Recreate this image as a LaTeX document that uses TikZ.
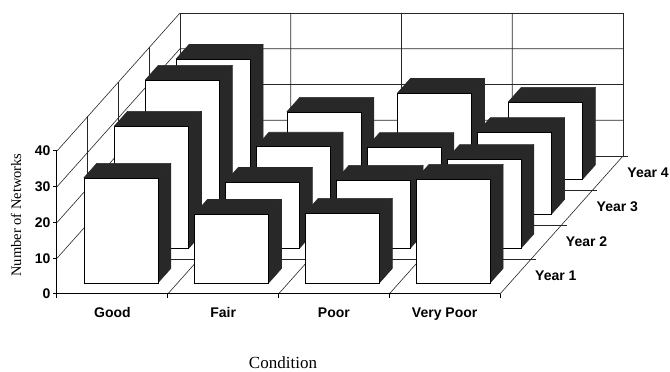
\documentclass[tikz,border=0pt]{standalone}
\usepackage{fontspec}
\setmainfont{Liberation Serif}
\newfontfamily\chartsf{Liberation Sans}
\usepackage{tikz}
\usetikzlibrary{positioning, calc}
\definecolor{barblack}{HTML}{282828}
\tikzstyle{GridLine} = [line width=0.6pt, black!85]
\tikzstyle{AxisLine} = [line width=1pt, black]
\tikzstyle{BarFront} = [fill=white, draw=black, line width=0.6pt]
\tikzstyle{BarShade} = [fill=barblack, draw=barblack, line width=0.6pt, line join=round]
\tikzstyle{ChartLabel} = [font=\chartsf\bfseries\fontsize{14}{16}\selectfont, inner sep=0pt]
\tikzstyle{TitleLabel} = [font=\fontsize{14.5}{16}\selectfont, inner sep=0pt]
% one box: condition, year, number of networks
\newcommand{\netbar}[3]{%
  \pgfmathsetmacro{\xa}{110.75*#1+17}
  \pgfmathsetmacro{\xb}{\xa+74}
  \pgfmathsetmacro{\za}{#2+0.32}
  \pgfmathsetmacro{\zb}{\za+0.42}
  \filldraw[BarShade] (\xa,#3,\za) -- (\xb,#3,\za) -- (\xb,#3,\zb) -- (\xa,#3,\zb) -- cycle;
  \filldraw[BarShade] (\xb,0,\za) -- (\xb,0,\zb) -- (\xb,#3,\zb) -- (\xb,#3,\za) -- cycle;
  \filldraw[BarFront] (\xa,0,\za) -- (\xb,0,\za) -- (\xb,#3,\za) -- (\xa,#3,\za) -- cycle;
}

\begin{document}
\begin{tikzpicture}[x=1pt, y=3.575pt, z={(30.75pt,34.5pt)}]
    \useasboundingbox (-57pt,-78pt) rectangle (613pt,294pt);
    % back wall
    \draw[GridLine] (0,0,4) -- (443,0,4) -- (443,40,4) -- (0,40,4) -- cycle;
    \foreach \c in {1,2,3}
        \draw[GridLine] (110.75*\c,0,0) -- (110.75*\c,0,4) -- (110.75*\c,40,4);
    \foreach \v in {10,20,30}
        \draw[GridLine] (0,\v,0) -- (0,\v,4) -- (443,\v,4);
    % side wall and floor
    \draw[GridLine] (0,40,0) -- (0,40,4);
    \foreach \d in {1,2,3}
        \draw[GridLine] (0,0,\d) -- (0,40,\d);
    \foreach \d in {1,...,4}
        \draw[GridLine] (0,0,\d) -- (448,0,\d);
    \draw[GridLine] (443,0,0) -- (443,0,4);
    % bars, back row first
    \foreach \yr/\vals in {3/{33.7,18.9,24.2,21.7}, 2/{37.5,18.8,18.7,22.9},
            1/{34.3,18.6,19.2,25.0}, 0/{29.4,19.3,19.6,29.1}} {
        \foreach \h [count=\c from 0] in \vals {\netbar{\c}{\yr}{\h}}
    }
    % axes
    \draw[AxisLine] (0,40,0) -- (0,0,0) -- (443,0,0);
    \foreach \v in {0,...,4}
        \draw[AxisLine] (0,10*\v,0) -- ++(-4pt,0)
            node[ChartLabel, left=2pt] (v\v) {\the\numexpr10*\v\relax};
    \foreach \c in {0,...,4}
        \draw[AxisLine] (110.75*\c,0,0) -- ++(0,-4pt);
    \foreach \c/\name in {0/Good, 1/Fair, 2/Poor, 3/Very Poor}
        \node[ChartLabel, anchor=base] (c\c) at ($(110.75*\c+55.4,0,0)+(0,-24pt)$) {\name};
    \foreach \yr in {0,...,3}
        \node[ChartLabel, anchor=base west] (y\yr) at ($(478pt,13pt)+(0,0,\yr)$)
            {Year \the\numexpr\yr+1\relax};
    \node[TitleLabel, rotate=90] (ny) at (-41pt,79pt) {Number of Networks};
    \node[TitleLabel, font=\fontsize{17}{19}\selectfont] (cx) at (226pt,-69pt) {Condition};
\end{tikzpicture}
\end{document}
